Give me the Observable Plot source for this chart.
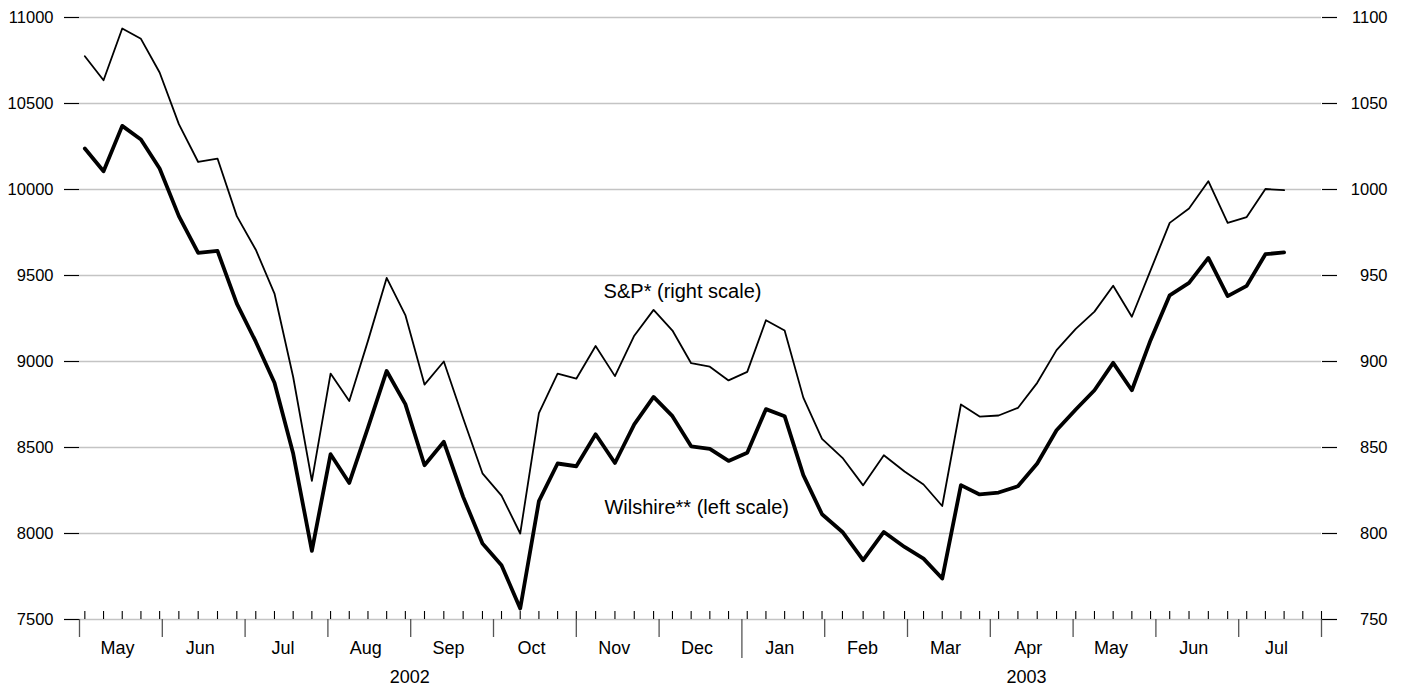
<!DOCTYPE html>
<html>
<head>
<meta charset="utf-8">
<script src="https://cdn.jsdelivr.net/npm/d3@7"></script>
<script src="https://cdn.jsdelivr.net/npm/@observablehq/plot@0.6"></script>
<style>
  html, body { margin: 0; padding: 0; background: #fff; }
  #chart svg { display: block; }
</style>
</head>
<body>
<div id="chart"></div>
<script>
// ---- data (weekly, Fridays from 3 May 2002) ----
const firstWeek = "2002-05-03";
const lastTickWeek = "2003-08-01";
const wilshire = [10238,10106,10370,10291,10122,9845,9632,9643,9337,9115,8876,8465,7899,8461,8294,8615,8945,8752,8397,8533,8213,7942,7816,7564,8188,8407,8391,8577,8410,8635,8794,8682,8507,8492,8422,8469,8723,8682,8339,8112,8009,7845,8009,7922,7854,7738,8281,8227,8238,8275,8407,8600,8721,8833,8992,8833,9124,9385,9457,9602,9380,9440,9624,9634];
const sp = [1077.5,1063.5,1093.6,1087.6,1068,1038,1016,1018,984.5,965,939.5,891,830.6,893,877,912,948.6,927,886.6,900,867,835,822,800,870,893,890,909,891.5,915,930,918,899,897,889,894,924,918,879,855,844,828,845.5,836,828.5,816,875,868,868.6,873,887.6,906.6,919,929,944,926,953,980.6,989,1004.8,980.6,984,1000.3,999.6];
const monthLabels = ["May","Jun","Jul","Aug","Sep","Oct","Nov","Dec","Jan","Feb","Mar","Apr","May","Jun","Jul"];
const yearLabels = ["2002","2003"];
const leftTicks = [7500,8000,8500,9000,9500,10000,10500,11000];
const rightTicks = [750,800,850,900,950,1000,1050,1100];
const seriesLabels = ["S&P* (right scale)", "Wilshire** (left scale)"];

// ---- helpers ----
const parse = d3.utcParse("%Y-%m-%d");
const fridays = d3.utcFriday.range(parse(firstWeek), d3.utcDay.offset(parse(lastTickWeek), 1));
// position in months since 1 May 2002, each month equal width
function monthPos(d) {
  const y = d.getUTCFullYear(), m = d.getUTCMonth(), day = d.getUTCDate();
  const dim = new Date(Date.UTC(y, m + 1, 0)).getUTCDate();
  return (y - 2002) * 12 + m - 4 + (day - 1) / dim;
}
const rows = wilshire.map((w, i) => ({date: fridays[i], w, sp: sp[i]}));
const monthBounds = d3.range(monthLabels.length + 1);

const font = "'Liberation Sans', Arial, Helvetica, sans-serif";

const chart = Plot.plot({
  width: 1404,
  height: 685,
  marginLeft: 79,
  marginRight: 83,
  marginTop: 17,
  marginBottom: 66,
  x: {domain: [0, 15], axis: null},
  y: {domain: [7500, 11000], axis: null},
  style: {fontFamily: font, color: "#000", background: "#fff", overflow: "visible"},
  marks: [
    Plot.ruleY(leftTicks, {stroke: "#c4c4c4", strokeWidth: 1.3}),
    Plot.axisY({ticks: leftTicks, anchor: "left", tickSize: 15, tickPadding: 11, fontSize: 16.5, tickFormat: d => String(d), label: null, strokeWidth: 1.2}),
    Plot.axisY({ticks: rightTicks.map(v => v * 10), anchor: "right", tickSize: 15, tickPadding: 51, textAnchor: "end", fontSize: 16.5, tickFormat: d => String(d / 10), label: null, strokeWidth: 1.2}),
    // weekly ticks (upward)
    Plot.ruleX(fridays, {x: monthPos, y1: 7500, y2: 7500, insetTop: -8, stroke: "#000", strokeWidth: 1.1}),
    // month boundary ticks (downward); year boundary longer
    Plot.ruleX(monthBounds, {x: d => d, y1: 7500, y2: 7500, insetBottom: -18, stroke: "#555", strokeWidth: 1.3, filter: d => d !== 8}),
    Plot.ruleX(monthBounds, {x: d => d, y1: 7500, y2: 7500, insetBottom: -39, stroke: "#555", strokeWidth: 1.3, filter: d => d === 8}),
    Plot.text(monthLabels, {x: (d, i) => i + 0.5, y: 7500, dy: 29, dx: -3.5, text: d => d, fontSize: 18, fill: "#000"}),
    Plot.text(yearLabels, {x: (d, i) => (i === 0 ? 4 : 11.45), y: 7500, dy: 58, dx: -1, text: d => d, fontSize: 18, fill: "#000"}),
    // series
    Plot.line(rows, {x: d => monthPos(d.date), y: d => d.sp * 10, stroke: "#000", strokeWidth: 1.8}),
    Plot.line(rows, {x: d => monthPos(d.date), y: "w", stroke: "#000", strokeWidth: 3.8}),
    Plot.text(seriesLabels, {x: (d, i) => (i === 0 ? 6.33 : 6.34), y: (d, i) => (i === 0 ? 9409 : 8152), text: d => d, textAnchor: "start", fontSize: 20, fill: "#000"})
  ]
});
document.getElementById("chart").appendChild(chart);
</script>
</body>
</html>
